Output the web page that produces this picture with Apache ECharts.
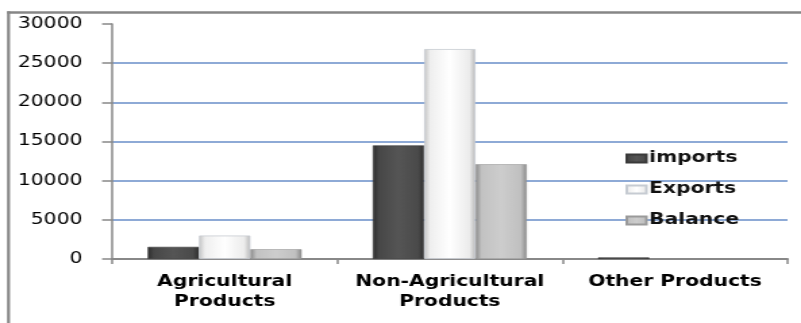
<!DOCTYPE html>
<html>
<head>
<meta charset="utf-8">
<script src="https://cdn.jsdelivr.net/npm/echarts@6/dist/echarts.min.js"></script>
<style>
  html, body { margin: 0; padding: 0; background: #fff; overflow: hidden; }
  #frame { width: 801px; height: 323px; overflow: hidden; }
  /* chart is laid out narrow and widened horizontally */
  #chart { width: 593px; height: 323px; transform: scaleX(1.3508); transform-origin: 0 0; }
</style>
</head>
<body>
<div id="frame"><div id="chart"></div></div>
<script>
// Trade by product group
const categories = ['Agricultural\nProducts', 'Non-Agricultural\nProducts', 'Other Products'];
const seriesNames = ['imports', 'Exports', 'Balance'];
const importsValues = [1550, 14500, 200];
const exportsValues = [3000, 26800, 0];
const balanceValues = [1250, 12100, 0];
const yTicks = [0, 5000, 10000, 15000, 20000, 25000, 30000];

function hGrad(stops) {
  return new echarts.graphic.LinearGradient(0, 0, 1, 0,
    stops.map(s => ({ offset: s[0], color: s[1] })));
}

// zero-height bars get no outline
function barData(values) {
  return values.map(v => (v === 0 ? { value: v, itemStyle: { borderWidth: 0 } } : v));
}

const importsFill = hGrad([[0, '#2c2c2c'], [0.12, '#474747'], [0.5, '#555555'], [0.88, '#4a4a4a'], [1, '#2e2e2e']]);
const exportsFill = hGrad([[0, '#c4c4c4'], [0.12, '#efefef'], [0.5, '#ffffff'], [0.88, '#ececec'], [1, '#b8b8b8']]);
const balanceFill = hGrad([[0, '#8a8a8a'], [0.12, '#c2c2c2'], [0.5, '#cdcdcd'], [0.88, '#c0c0c0'], [1, '#888888']]);

const chart = echarts.init(document.getElementById('chart'), null, { renderer: 'canvas' });

const gridBlue = '#8eaad6';
const axisGray = '#888888';

chart.setOption({
  animation: false,
  backgroundColor: '#ffffff',
  textStyle: { fontFamily: 'DejaVu Sans' },
  grid: { left: 83, right: 10, top: 24, bottom: 64, containLabel: false },
  legend: {
    orient: 'vertical',
    left: 463,
    top: 151,
    padding: 0,
    itemWidth: 14.5,
    itemHeight: 8,
    itemGap: 16,
    icon: 'rect',
    textStyle: { fontFamily: 'DejaVu Sans', fontWeight: 'bold', fontSize: 15, color: '#111', lineHeight: 15, padding: [0, 0, 0, -3] },
    data: seriesNames
  },
  xAxis: {
    type: 'category',
    data: categories,
    axisLine: { show: true, lineStyle: { color: axisGray, width: 2 } },
    axisTick: { show: true, length: 5, lineStyle: { color: axisGray, width: 1.5 } },
    axisLabel: {
      fontFamily: 'DejaVu Sans', fontWeight: 'bold', fontSize: 15, color: '#000',
      lineHeight: 20, margin: 13, interval: 0
    },
    splitLine: { show: false }
  },
  yAxis: {
    type: 'value',
    min: yTicks[0],
    max: yTicks[yTicks.length - 1],
    interval: yTicks[1] - yTicks[0],
    axisLine: { show: true, lineStyle: { color: axisGray, width: 1.5 } },
    axisTick: { show: true, length: 7.4, lineStyle: { color: axisGray, width: 1.5 } },
    axisLabel: { fontFamily: 'DejaVu Sans', fontSize: 15, color: '#000', margin: 22, formatter: v => String(v) },
    splitLine: {
      show: true,
      lineStyle: { color: [gridBlue, gridBlue, gridBlue, gridBlue, gridBlue, gridBlue, 'rgba(0,0,0,0)'], width: 2 }
    }
  },
  series: [
    {
      name: seriesNames[0], type: 'bar', data: barData(importsValues),
      barGap: '0%', barCategoryGap: '31.6%',
      itemStyle: { color: importsFill, borderColor: '#3a3a3a', borderWidth: 0.6 }
    },
    {
      name: seriesNames[1], type: 'bar', data: barData(exportsValues),
      barGap: '0%', barCategoryGap: '31.6%',
      itemStyle: { color: exportsFill, borderColor: '#c6cbd2', borderWidth: 0.8 }
    },
    {
      name: seriesNames[2], type: 'bar', data: barData(balanceValues),
      barGap: '0%', barCategoryGap: '31.6%',
      itemStyle: { color: balanceFill, borderColor: '#9a9a9a', borderWidth: 0.6 }
    }
  ],
  graphic: [
    {
      type: 'line', silent: true,
      shape: { x1: 5.4, y1: 12.5, x2: 600, y2: 12.5 },
      style: { stroke: '#868686', lineWidth: 2.4 }
    },
    {
      type: 'line', silent: true,
      shape: { x1: 6.3, y1: 11.3, x2: 6.3, y2: 330 },
      style: { stroke: '#868686', lineWidth: 2.2 }
    }
  ]
});
</script>
</body>
</html>
